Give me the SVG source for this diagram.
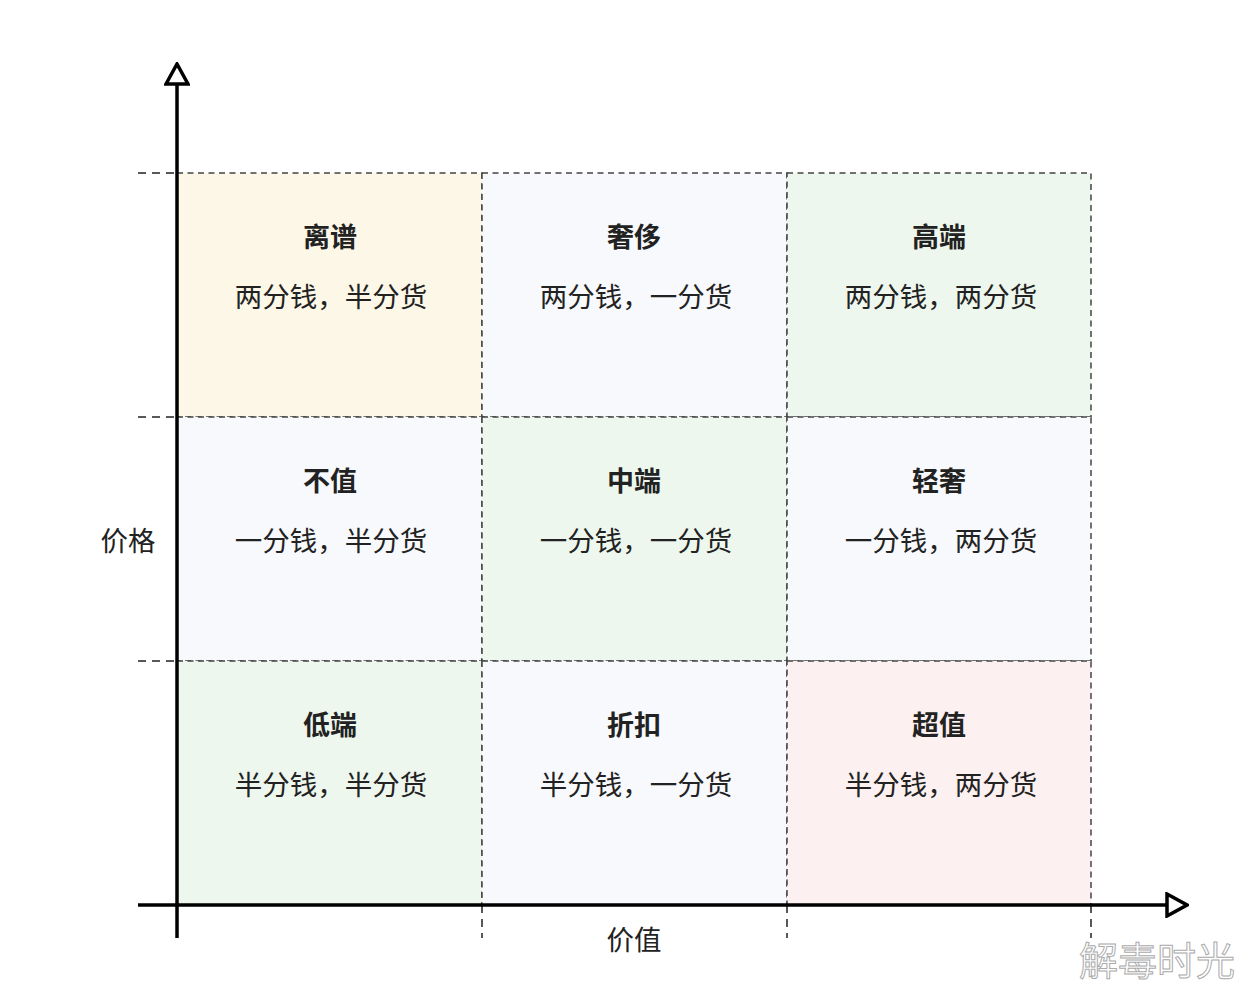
<svg xmlns="http://www.w3.org/2000/svg" width="1256" height="1008" viewBox="0 0 1256 1008">
<style>
.cell{stroke:#444;stroke-width:1.5;stroke-dasharray:6,4.5}
.ext{stroke:#222;stroke-width:1.5;stroke-dasharray:8,6;fill:none}
.t{font-family:"Noto Sans CJK SC","Noto Sans",sans-serif;font-size:27.5px;fill:#222;text-anchor:middle}
.b{font-weight:bold;font-size:27px}
.axis{stroke:#000;stroke-width:3.5;fill:none}
</style>
<defs>
<marker id="ah" viewBox="0 0 24 26" refX="2" refY="13" markerWidth="24" markerHeight="26" markerUnits="userSpaceOnUse" orient="auto">
<path d="M2,2 L22,13 L2,24 Z" fill="#fff" stroke="#000" stroke-width="3.5" stroke-linejoin="miter"/>
</marker>
</defs>
<rect width="1256" height="1008" fill="#fff"/>
<g id="connectors">
<path class="ext" d="M138,173H177M138,417H177M138,661H177"/>
<path class="ext" d="M482,905V938M787,905V938M1091,905V938"/>
</g>
<g id="cell-lipu"><rect class="cell" x="177" y="173" width="305" height="244" fill="#fdf7e7"/><text class="t b" x="330" y="247">离谱</text><text class="t" x="331" y="307">两分钱，半分货</text></g>
<g id="cell-shechi"><rect class="cell" x="482" y="173" width="305" height="244" fill="#f7f9fc"/><text class="t b" x="634" y="247">奢侈</text><text class="t" x="636" y="307">两分钱，一分货</text></g>
<g id="cell-gaoduan"><rect class="cell" x="787" y="173" width="304" height="244" fill="#eef7ee"/><text class="t b" x="939" y="247">高端</text><text class="t" x="941" y="307">两分钱，两分货</text></g>
<g id="cell-buzhi"><rect class="cell" x="177" y="417" width="305" height="244" fill="#f7f9fc"/><text class="t b" x="330" y="491">不值</text><text class="t" x="331" y="551">一分钱，半分货</text></g>
<g id="cell-zhongduan"><rect class="cell" x="482" y="417" width="305" height="244" fill="#eef7ee"/><text class="t b" x="634" y="491">中端</text><text class="t" x="636" y="551">一分钱，一分货</text></g>
<g id="cell-qingshe"><rect class="cell" x="787" y="417" width="304" height="244" fill="#f7f9fc"/><text class="t b" x="939" y="491">轻奢</text><text class="t" x="941" y="551">一分钱，两分货</text></g>
<g id="cell-diduan"><rect class="cell" x="177" y="661" width="305" height="244" fill="#eef7ee"/><text class="t b" x="330" y="735">低端</text><text class="t" x="331" y="795">半分钱，半分货</text></g>
<g id="cell-zhekou"><rect class="cell" x="482" y="661" width="305" height="244" fill="#f7f9fc"/><text class="t b" x="634" y="735">折扣</text><text class="t" x="636" y="795">半分钱，一分货</text></g>
<g id="cell-chaozhi"><rect class="cell" x="787" y="661" width="304" height="244" fill="#fdf0f0"/><text class="t b" x="939" y="735">超值</text><text class="t" x="941" y="795">半分钱，两分货</text></g>
<g id="axes">
<path class="axis" d="M177,938V84" marker-end="url(#ah)"/>
<path class="axis" d="M138,905H1167" marker-end="url(#ah)"/>
</g>
<g id="label-price"><text class="t" x="128" y="551">价格</text></g>
<g id="label-value"><text class="t" x="634" y="950">价值</text></g>
<g id="watermark"><text x="1157" y="975" font-family="Noto Sans CJK SC,sans-serif" font-size="39" text-anchor="middle" fill="#fff" stroke="#aaa" stroke-width="1">解毒时光</text></g>
</svg>
